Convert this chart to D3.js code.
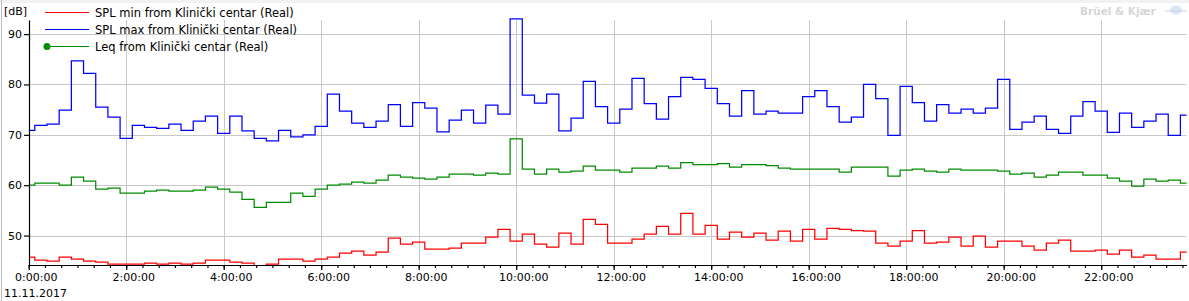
<!DOCTYPE html>
<html>
<head>
<meta charset="utf-8">
<script src="https://cdn.jsdelivr.net/npm/d3@7"></script>
<style>
  body { margin: 0; background: #fff; }
  svg { display: block; font-family: "DejaVu Sans", sans-serif; }
</style>
</head>
<body>
<div id="chart"></div>
<script>
// 15 minute intervals, 11.11.2017
var startTime = new Date(2017, 10, 11, 0, 0, 0);
var stepMinutes = 15;

var seriesNames = ["SPL min from Klinički centar (Real)", "SPL max from Klinički centar (Real)", "Leq from Klinički centar (Real)"];

var splMax = [70.9,71.9,72.1,74.9,84.7,82.2,75.5,73.5,69.3,71.9,
  71.5,71.3,72.1,70.9,72.7,73.7,70.3,73.7,70.8,69.3,
  68.8,70.9,69.6,70.0,71.7,78.1,74.7,72.3,71.5,72.7,
  76.0,71.7,76.4,75.3,70.6,72.9,74.9,72.3,75.9,74.1,
  93.0,77.9,76.3,78.1,70.8,73.3,80.6,75.6,72.3,75.1,
  81.2,76.2,73.1,77.6,81.4,81.0,79.2,76.2,73.7,78.8,
  74.1,74.7,74.3,74.3,77.6,78.8,75.6,72.5,73.5,80.0,
  77.2,69.9,79.6,76.4,72.7,76.0,74.3,75.1,74.3,75.3,
  81.0,71.1,72.5,73.7,71.1,70.3,73.7,76.6,74.7,70.5,
  74.3,71.5,72.7,74.1,69.9,73.9];

var leq = [60.0,60.4,60.4,60.0,61.6,60.8,59.2,59.4,58.4,58.4,
  58.8,59.0,58.8,58.8,59.0,59.6,59.2,58.6,57.2,55.6,
  56.6,56.6,58.4,57.8,59.2,60.0,60.2,60.6,60.4,61.0,
  62.0,61.6,61.4,61.2,61.6,62.2,62.2,62.0,62.4,62.2,
  69.2,63.2,62.2,63.2,62.6,62.8,63.8,63.0,63.0,62.6,
  63.4,63.4,63.8,63.4,64.5,64.1,64.1,64.3,63.6,64.1,
  64.1,63.9,63.4,63.2,63.2,63.2,63.2,62.6,63.6,63.6,
  63.6,61.8,63.0,63.2,62.8,62.6,63.2,63.0,63.0,63.0,
  62.8,62.2,62.4,61.6,62.0,62.6,62.6,62.0,62.0,61.4,
  60.8,59.8,61.2,60.8,61.0,60.4];

var splMin = [45.7,45.1,44.9,45.7,45.3,44.9,44.7,44.3,44.3,44.3,
  44.5,44.3,44.5,44.3,44.5,45.1,45.1,44.7,44.5,44.0,
  44.3,45.3,45.3,44.9,45.3,45.7,46.5,46.9,46.1,46.7,
  49.5,48.3,48.7,47.3,47.3,47.5,48.5,48.5,49.7,51.2,
  48.9,50.3,48.3,47.7,50.5,48.3,53.2,52.2,48.5,48.5,
  49.3,50.3,51.8,50.3,54.4,50.3,52.0,49.3,50.7,49.7,
  50.5,49.1,50.9,48.9,51.2,49.3,51.4,51.2,51.0,50.9,
  48.5,47.9,48.9,51.0,48.5,48.7,49.7,47.9,49.9,47.7,
  48.9,48.9,47.9,47.1,48.5,49.1,46.9,46.9,47.1,46.3,
  47.1,45.7,46.1,45.3,45.3,46.7];

var yTicks = [50, 60, 70, 80, 90];

var width = 1189, height = 301;

var svg = d3.select("#chart").append("svg")
  .attr("width", width)
  .attr("height", height);

// window chrome bits
svg.append("rect").attr("x", 0).attr("y", 0).attr("width", width).attr("height", 3).attr("fill", "#f2f2f2");
svg.append("line").attr("x1", 1.5).attr("x2", 1.5).attr("y1", 0).attr("y2", height)
  .attr("stroke", "#b8bcc8").attr("stroke-width", 1);

var times = splMax.map(function(d, i) { return d3.timeMinute.offset(startTime, i * stepMinutes); });

var x = d3.scaleTime()
  .domain([startTime, times[times.length - 1]])
  .range([28.7, 1186.5]);

var y = d3.scaleLinear()
  .domain([44.15, 92.8])
  .range([265, 20]);

// grid
var grid = svg.append("g").attr("class", "grid");
grid.selectAll(".hg").data(yTicks).enter().append("line")
  .attr("x1", 29).attr("x2", 1186.5)
  .attr("y1", function(d) { return Math.round(y(d)) + 0.5; })
  .attr("y2", function(d) { return Math.round(y(d)) + 0.5; })
  .attr("stroke", "#c8c8c8");
var majorTicks = x.ticks(d3.timeHour.every(2)).filter(function(d) { return d.getHours() != 0; });
grid.selectAll(".vg").data(majorTicks).enter().append("line")
  .attr("y1", 20).attr("y2", 265)
  .attr("x1", function(d) { return Math.round(x(d)) + 0.5; })
  .attr("x2", function(d) { return Math.round(x(d)) + 0.5; })
  .attr("stroke", "#c8c8c8");

svg.append("clipPath").attr("id", "plotclip")
  .append("rect").attr("x", 29).attr("y", 12).attr("width", 1160).attr("height", 253);

var line = d3.line()
  .x(function(d, i) { return x(times[i]); })
  .y(function(d) { return y(d); })
  .curve(d3.curveStep);

var plot = svg.append("g").attr("clip-path", "url(#plotclip)");
plot.append("path").datum(splMax).attr("d", line)
  .attr("fill", "none").attr("stroke", "#0000ff").attr("stroke-width", 1.25);
plot.append("path").datum(leq).attr("d", line)
  .attr("fill", "none").attr("stroke", "#008c00").attr("stroke-width", 1.25);
plot.append("path").datum(splMin).attr("d", line)
  .attr("fill", "none").attr("stroke", "#ff0000").attr("stroke-width", 1.25);

// axes
var xAxis = d3.axisBottom(x)
  .ticks(d3.timeHour.every(2))
  .tickFormat(d3.timeFormat("%-H:%M:%S"))
  .tickSize(5).tickSizeOuter(0).tickPadding(3);
var gx = svg.append("g").attr("transform", "translate(0,265)").call(xAxis);
gx.selectAll("text").attr("dx", 7);

var minorAxis = d3.axisBottom(x)
  .ticks(d3.timeMinute.every(20))
  .tickFormat("")
  .tickSize(3).tickSizeOuter(0);
var gm = svg.append("g").attr("transform", "translate(0,265)").call(minorAxis);
gm.select(".domain").remove();

var yAxis = d3.axisLeft(y)
  .tickValues(yTicks)
  .tickSize(5).tickSizeOuter(0).tickPadding(2);
var gy = svg.append("g").attr("transform", "translate(29,0)").call(yAxis);

svg.selectAll(".domain, .tick line").attr("stroke", "#000").attr("stroke-width", 1.2);
svg.selectAll(".tick text").attr("fill", "#000").style("font-size", "11px")
  .style("font-family", "DejaVu Sans");

svg.append("text").attr("x", 4).attr("y", 15).style("font-size", "11px").text("[dB]");
svg.append("text").attr("x", 4).attr("y", 297).style("font-size", "11px").text("11.11.2017");

// legend
var legendColors = ["#ff0000", "#0000ff", "#008c00"];
var legend = svg.append("g");
seriesNames.forEach(function(name, i) {
  var ly = 12.5 + i * 17;
  legend.append("line").attr("x1", 45).attr("x2", 89).attr("y1", ly).attr("y2", ly)
    .attr("stroke", legendColors[i]).attr("stroke-width", 1.2);
  if (i == 2) {
    legend.append("circle").attr("cx", 47).attr("cy", ly).attr("r", 3.5).attr("fill", legendColors[i]);
  }
  legend.append("text").attr("x", 95).attr("y", ly + 4.5)
    .style("font-size", "11.5px").text(name);
});

// watermark
svg.append("text").attr("x", 1080).attr("y", 15)
  .style("font-size", "10.5px").style("font-weight", "bold").attr("fill", "#d6d6d6")
  .text("Brüel & Kjær");
svg.append("ellipse").attr("cx", 1176).attr("cy", 10).attr("rx", 6).attr("ry", 4.5)
  .attr("fill", "#dbe4f2");
svg.append("line").attr("x1", 1165).attr("x2", 1187).attr("y1", 11).attr("y2", 11)
  .attr("stroke", "#c8d4ea").attr("stroke-width", 1);
</script>
</body>
</html>
